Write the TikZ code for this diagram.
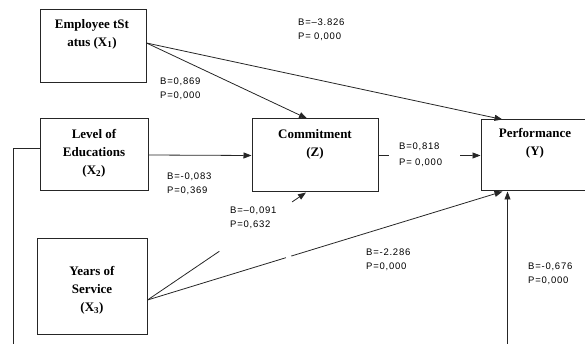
\documentclass[tikz,border=0pt]{standalone}
\usepackage{fontspec}
\setmainfont{Liberation Serif}
\newfontfamily\labfont[LetterSpace=8]{Liberation Sans}
\usetikzlibrary{arrows.meta,calc}
\begin{document}
\begin{tikzpicture}[x=1pt,y=-1pt,
  box/.style={draw=black!85, line width=1pt, rectangle, inner sep=0pt},
  boxtext/.style={font=\bfseries\fontsize{13}{18}\selectfont, align=center, inner sep=0pt},
  lab/.style={font=\labfont\fontsize{9.5}{14}\selectfont, align=left, inner sep=0pt, anchor=west},
  conn/.style={line width=0.8pt, draw=black!85},
  arr/.style={conn, -{Triangle[length=8pt,width=6pt]}}]
\useasboundingbox (0,0) rectangle (585,344);
\clip (0,0) rectangle (585,344);
% boxes
\node[box, minimum width=106pt, minimum height=73pt] (x1) at (93,46.5) {};
\node[box, minimum width=108pt, minimum height=72pt] (x2) at (94,155) {};
\node[box, minimum width=126pt, minimum height=73pt] (z) at (315,155.5) {};
\node[box, minimum width=119pt, minimum height=71pt] (y) at (540.5,155.5) {};
\node[box, minimum width=110pt, minimum height=95pt] (x3) at (92,286.5) {};
% box texts
\node[boxtext] (x1t) at (92,34) {Employee tSt\\atus (X\textsubscript{1})};
\node[boxtext] (x2t) at (94,153.5) {Level of\\Educations\\(X\textsubscript{2})};
\node[boxtext] (zt) at (315,144) {Commitment\\(Z)};
\node[boxtext] (yt) at (535,143.5) {Performance\\(Y)};
\node[boxtext] (x3t) at (92,290.5) {Years of\\Service\\(X\textsubscript{3})};
% coordinates
\coordinate (x1o) at ([yshift=3.5pt]x1.east);
\coordinate (x3o) at ([yshift=-13.5pt]x3.east);
\coordinate (x2o) at ([yshift=7pt]x2.west);
\coordinate (zn) at ([xshift=-8pt]z.north);
\coordinate (zs) at ([xshift=-9pt]z.south);
\coordinate (yn) at ([xshift=22pt]y.north west);
\coordinate (ys) at ([xshift=22pt]y.south west);
\coordinate (yb) at ([xshift=27pt]y.south west);
\coordinate (bl) at (13,360);
\coordinate (br) at (yb |- bl);
% connectors
\draw[arr] (x1o) -- (zn);
\draw[arr] (x1o) -- (yn);
\draw[arr] (x2.east) -- (z.west);
\draw[conn] (z.east) -- ($(z.east)!0.1!(y.west)$);
\draw[arr] ($(z.east)!0.8!(y.west)$) -- (y.west);
\draw[conn] (x3o) -- ($(x3o)!0.453!(zs)$);
\draw[arr] ($(x3o)!0.912!(zs)$) -- (zs);
\draw[conn] (x3o) -- ($(x3o)!0.39!(ys)$);
\draw[arr] ($(x3o)!0.405!(ys)$) -- (ys);
\draw[arr] (x2o) -- (x2o -| bl) -- (bl) -- (br) -- (yb);
% labels
\node[lab] (l1) at (160,89) {B=0,869\\P=0,000};
\node[lab] (l2) at (298,30) {B=–3.826\\P= 0,000};
\node[lab] (l3) at (167,184) {B=-0,083\\P=0,369};
\node[lab] (l4) at (230,218) {B=–0,091\\P=0,632};
\node[lab, font=\labfont\fontsize{9.5}{16.5}\selectfont] (l5) at (399,155) {B=0,818\\P= 0,000};
\node[lab] (l6) at (366,260) {B=-2.286\\P=0,000};
\node[lab] (l7) at (528,274) {B=-0,676\\P=0,000};
\end{tikzpicture}
\end{document}
